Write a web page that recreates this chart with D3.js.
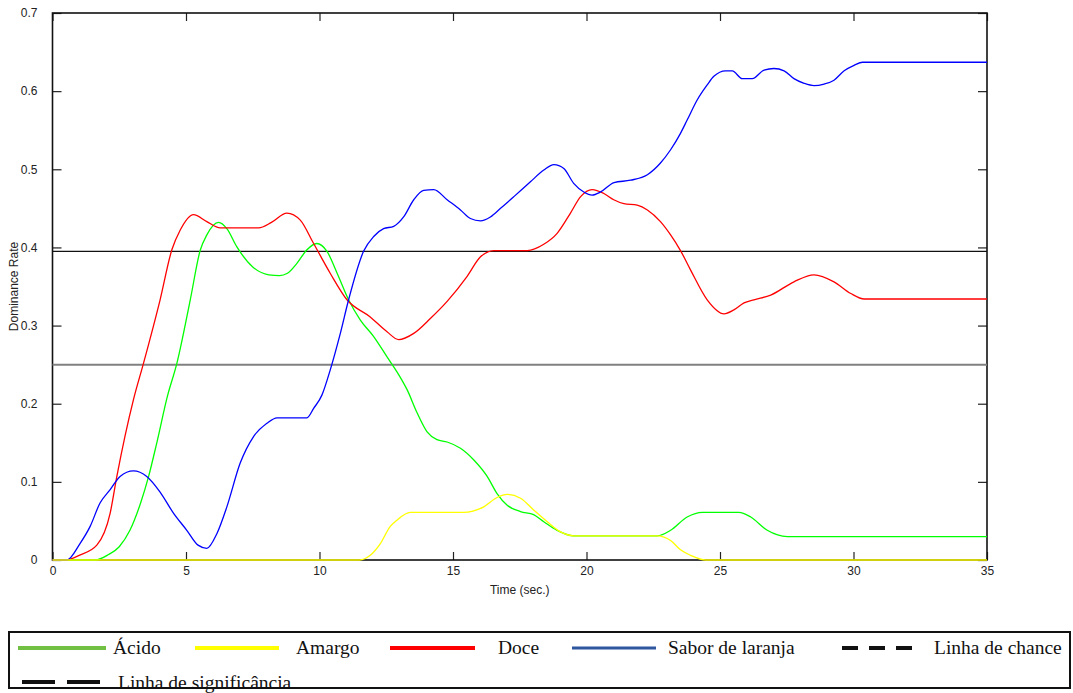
<!DOCTYPE html>
<html>
<head>
<meta charset="utf-8">
<script src="https://cdn.jsdelivr.net/npm/d3@7"></script>
<style>
    body { margin: 0; background: #fff; }
    .tick text { font-family: "Liberation Sans", Arial, sans-serif; font-size: 12px; fill: #222; }
    .legend text { font-family: "Liberation Serif", "Times New Roman", serif; font-size: 19.5px; fill: #111; }
</style>
</head>
<body>
<div id="chart"></div>
<script>
// time (sec.) / dominance rate
const acido = [[0,0],[1.6,0],[2.1,0.007],[2.5,0.017],[2.9,0.038],[3.3,0.073],[3.6,0.107],[3.9,0.149],[4.3,0.209],[4.66,0.252],[5.16,0.333],[5.53,0.396],[5.78,0.416],[6.22,0.432],[6.53,0.424],[6.9,0.401],[7.5,0.375],[8.1,0.365],[8.5,0.364],[8.8,0.367],[9.16,0.38],[9.53,0.397],[9.9,0.405],[10.28,0.395],[10.66,0.367],[11.09,0.333],[11.53,0.307],[12.03,0.286],[12.53,0.26],[12.97,0.237],[13.28,0.218],[13.66,0.188],[14.03,0.164],[14.4,0.154],[14.78,0.151],[15.28,0.143],[15.78,0.128],[16.28,0.107],[16.65,0.085],[17.03,0.07],[17.53,0.062],[18.02,0.058],[18.4,0.049],[18.9,0.038],[19.52,0.031],[22.65,0.031],[23.15,0.038],[23.77,0.055],[24.34,0.061],[25.71,0.061],[26.15,0.055],[26.77,0.038],[27.52,0.03],[35,0.03]];

const amargo = [[0,0],[11.5,0],[11.9,0.006],[12.28,0.021],[12.65,0.043],[12.9,0.051],[13.4,0.061],[15.4,0.061],[16.15,0.068],[16.65,0.08],[17.03,0.084],[17.53,0.079],[18.02,0.064],[18.53,0.049],[19.03,0.036],[19.52,0.031],[22.65,0.031],[23.15,0.025],[23.52,0.013],[23.9,0.006],[24.46,0],[35,0]];

const doce = [[0,0],[0.5,0],[1.0,0.006],[1.66,0.019],[2.16,0.06],[2.41,0.107],[3.03,0.205],[3.41,0.252],[4.03,0.333],[4.47,0.397],[4.78,0.422],[5.28,0.442],[5.78,0.433],[6.28,0.425],[7.72,0.425],[8.2,0.432],[8.78,0.444],[9.28,0.435],[9.78,0.405],[10.4,0.367],[11.03,0.333],[11.9,0.311],[12.53,0.292],[12.97,0.282],[13.53,0.29],[14.15,0.309],[14.78,0.331],[15.53,0.363],[16.03,0.388],[16.53,0.396],[17.78,0.396],[18.4,0.404],[18.9,0.418],[19.4,0.444],[19.78,0.465],[20.21,0.474],[20.65,0.469],[21.02,0.461],[21.4,0.456],[21.9,0.454],[22.28,0.448],[22.77,0.433],[23.15,0.416],[23.52,0.396],[23.9,0.371],[24.52,0.333],[25.15,0.315],[25.52,0.32],[25.9,0.329],[26.27,0.333],[26.9,0.339],[27.77,0.356],[28.52,0.365],[29.27,0.356],[29.9,0.341],[30.4,0.334],[35,0.334]];

const sabor = [[0,0],[0.54,0],[1.03,0.021],[1.41,0.043],[1.78,0.073],[2.16,0.09],[2.53,0.107],[3.03,0.114],[3.53,0.107],[4.03,0.087],[4.53,0.06],[5.03,0.038],[5.45,0.019],[5.78,0.015],[6.16,0.034],[6.53,0.068],[7.03,0.124],[7.53,0.158],[8.03,0.175],[8.41,0.182],[9.53,0.182],[9.78,0.194],[10.09,0.211],[10.4,0.243],[10.78,0.29],[11.09,0.333],[11.65,0.395],[12.03,0.414],[12.4,0.424],[12.78,0.427],[13.15,0.439],[13.53,0.461],[13.9,0.473],[14.28,0.474],[14.78,0.461],[15.28,0.448],[15.65,0.437],[16.03,0.434],[16.4,0.439],[16.78,0.45],[17.28,0.465],[17.9,0.484],[18.4,0.499],[18.78,0.506],[19.15,0.501],[19.52,0.482],[19.9,0.471],[20.21,0.467],[20.53,0.471],[21.03,0.483],[21.65,0.486],[22.28,0.493],[22.77,0.508],[23.15,0.525],[23.52,0.546],[23.77,0.563],[24.15,0.589],[24.52,0.608],[24.77,0.619],[25.21,0.626],[25.46,0.626],[25.83,0.616],[26.21,0.616],[26.65,0.627],[27.02,0.629],[27.4,0.626],[27.77,0.616],[28.15,0.61],[28.52,0.607],[28.9,0.609],[29.27,0.614],[29.65,0.626],[30.02,0.633],[30.34,0.637],[35,0.637]];

const chanceLevel = 0.25;
const significanceLevel = 0.395;

const xTicks = [0, 5, 10, 15, 20, 25, 30, 35];
const yTicks = [0, 0.1, 0.2, 0.3, 0.4, 0.5, 0.6, 0.7];
const yTickLabels = ["0", "0.1", "0.2", "0.3", "0.4", "0.5", "0.6", "0.7"];

const width = 1073, height = 693;
const plotLeft = 52.5, plotRight = 987, plotTop = 13, plotBottom = 560;

let x = d3.scaleLinear().domain([0, 35]).range([plotLeft, plotRight]);
let y = d3.scaleLinear().domain([0, 0.7]).range([plotBottom, plotTop]);

const svg = d3.select("#chart")
    .append("svg")
    .attr("width", width)
    .attr("height", height);

// inward ticks on all four sides, labels only on left and bottom
svg.append("g")
    .attr("transform", "translate(0," + plotBottom + ")")
    .call(d3.axisBottom(x).tickValues(xTicks).tickSize(-8).tickSizeOuter(0).tickPadding(6).tickFormat(d3.format("d")))
    .call(g => g.select(".domain").remove());

svg.append("g")
    .attr("transform", "translate(0," + plotTop + ")")
    .call(d3.axisTop(x).tickValues(xTicks).tickSize(-8).tickSizeOuter(0).tickFormat(""))
    .call(g => g.select(".domain").remove());

svg.append("g")
    .attr("transform", "translate(" + plotLeft + ",0)")
    .call(d3.axisLeft(y).tickValues(yTicks).tickSize(-9).tickSizeOuter(0).tickPadding(15)
        .tickFormat((d, i) => yTickLabels[i]))
    .call(g => g.select(".domain").remove());

svg.append("g")
    .attr("transform", "translate(" + plotRight + ",0)")
    .call(d3.axisRight(y).tickValues(yTicks).tickSize(-9).tickSizeOuter(0).tickFormat(""))
    .call(g => g.select(".domain").remove());

svg.selectAll(".tick line").attr("stroke", "#222").attr("stroke-width", 1.2);

svg.append("rect")
    .attr("x", plotLeft)
    .attr("y", plotTop)
    .attr("width", plotRight - plotLeft)
    .attr("height", plotBottom - plotTop)
    .attr("fill", "none")
    .attr("stroke", "#111")
    .attr("stroke-width", 1.6);

// reference lines
svg.append("line")
    .attr("x1", plotLeft).attr("x2", plotRight)
    .attr("y1", y(chanceLevel)).attr("y2", y(chanceLevel))
    .attr("stroke", "#808080")
    .attr("stroke-width", 2);

svg.append("line")
    .attr("x1", plotLeft).attr("x2", plotRight)
    .attr("y1", y(significanceLevel)).attr("y2", y(significanceLevel))
    .attr("stroke", "#111")
    .attr("stroke-width", 1.3);

const line = d3.line()
    .x(d => x(d[0]))
    .y(d => y(d[1]))
    .curve(d3.curveMonotoneX);

const series = [
    {data: acido, color: "#00ff00"},
    {data: doce, color: "#ff0000"},
    {data: sabor, color: "#0000ff"},
    {data: amargo, color: "#ffff00"}
];

svg.selectAll(".serie")
    .data(series)
    .enter()
    .append("path")
    .attr("class", "serie")
    .attr("fill", "none")
    .attr("stroke", d => d.color)
    .attr("stroke-width", 1.3)
    .attr("d", d => line(d.data));

// axis titles
svg.append("text")
    .attr("x", (plotLeft + plotRight) / 2)
    .attr("y", 594)
    .attr("text-anchor", "middle")
    .style("font-family", "Liberation Sans, Arial, sans-serif")
    .style("font-size", "12px")
    .style("fill", "#222")
    .text("Time (sec.)");

svg.append("text")
    .attr("transform", "translate(18," + (plotTop + plotBottom) / 2 + ") rotate(-90)")
    .attr("text-anchor", "middle")
    .style("font-family", "Liberation Sans, Arial, sans-serif")
    .style("font-size", "12px")
    .style("fill", "#222")
    .text("Dominance Rate");

// legend
const legend = svg.append("g").attr("class", "legend");

legend.append("rect")
    .attr("x", 9)
    .attr("y", 632)
    .attr("width", 1061)
    .attr("height", 56)
    .attr("fill", "none")
    .attr("stroke", "#111")
    .attr("stroke-width", 2);

const legendItems = [
    {label: "Ácido", color: "#72c043", x1: 18, x2: 106, tx: 113, row: 0, dash: null, w: 4},
    {label: "Amargo", color: "#ffff00", x1: 195, x2: 279, tx: 296, row: 0, dash: null, w: 4},
    {label: "Doce", color: "#ff0000", x1: 390, x2: 475, tx: 498, row: 0, dash: null, w: 4},
    {label: "Sabor de laranja", color: "#2f57a0", x1: 572, x2: 656, tx: 668, row: 0, dash: null, w: 3},
    {label: "Linha de chance", color: "#111", x1: 842, x2: 917, tx: 934, row: 0, dash: "16,11", w: 4},
    {label: "Linha de significância", color: "#111", x1: 22, x2: 100, tx: 118, row: 1, dash: "33,12", w: 4}
];

const rowLine = [648, 682];
const rowText = [654, 689];

legendItems.forEach(function (d) {
    legend.append("line")
        .attr("x1", d.x1).attr("x2", d.x2)
        .attr("y1", rowLine[d.row]).attr("y2", rowLine[d.row])
        .attr("stroke", d.color)
        .attr("stroke-width", d.w)
        .attr("stroke-dasharray", d.dash);
    legend.append("text")
        .attr("x", d.tx)
        .attr("y", rowText[d.row])
        .text(d.label);
});
</script>
</body>
</html>
